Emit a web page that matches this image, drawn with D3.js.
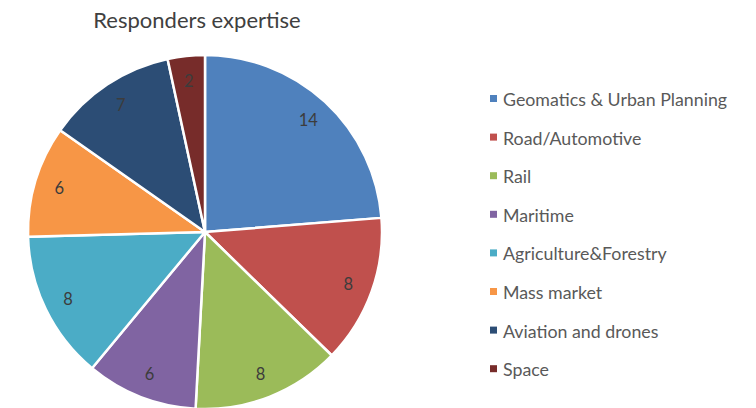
<!DOCTYPE html>
<html>
<head>
<meta charset="utf-8">
<script src="https://cdn.jsdelivr.net/npm/d3@7"></script>
<style>
  html, body { margin: 0; padding: 0; background: #fff; }
  svg { display: block; font-family: Lato, "Open Sans", "Liberation Sans", sans-serif; }
</style>
</head>
<body>
<svg id="chart" width="756" height="408"></svg>
<script>
// Responders by field of expertise
const categories = [
  "Geomatics & Urban Planning",
  "Road/Automotive",
  "Rail",
  "Maritime",
  "Agriculture&Forestry",
  "Mass market",
  "Aviation and drones",
  "Space"
];
const counts = [14, 8, 8, 6, 8, 6, 7, 2];
const colors = ["#4F81BD", "#C0504D", "#9BBB59", "#8064A2", "#4BACC6", "#F79646", "#2C4D75", "#772C2A"];

const data = categories.map((name, i) => ({ name, value: counts[i], color: colors[i] }));

const svg = d3.select("#chart");
const cx = 205, cy = 232, radius = 177;

// Title
svg.append("text")
  .attr("x", 197)
  .attr("y", 28)
  .attr("text-anchor", "middle")
  .attr("font-size", 22)
  .attr("fill", "#404040")
  .text("Responders expertise");

const pie = d3.pie().value(d => d.value).sort(null);
const arc = d3.arc().innerRadius(0).outerRadius(radius);
const labelArc = d3.arc().innerRadius(radius * 0.86).outerRadius(radius * 0.86);

const g = svg.append("g").attr("transform", `translate(${cx},${cy})`);
const arcs = pie(data);

g.selectAll("path.slice")
  .data(arcs)
  .join("path")
  .attr("class", "slice")
  .attr("d", arc)
  .attr("fill", d => d.data.color)
  .attr("stroke", "#fff")
  .attr("stroke-width", 2.5)
  .attr("stroke-linejoin", "round");

g.selectAll("text.value")
  .data(arcs)
  .join("text")
  .attr("class", "value")
  .attr("transform", d => `translate(${labelArc.centroid(d)})`)
  .attr("text-anchor", "middle")
  .attr("dominant-baseline", "central")
  .attr("font-size", 16.5)
  .attr("fill", "#3c3c3c")
  .text(d => d.data.value);

// Legend
const legend = svg.append("g").attr("transform", "translate(490,99)");
const rowStep = 38.6;
const rows = legend.selectAll("g.row")
  .data(data)
  .join("g")
  .attr("class", "row")
  .attr("transform", (d, i) => `translate(0,${i * rowStep})`);

rows.append("rect")
  .attr("x", 0)
  .attr("y", -4)
  .attr("width", 7)
  .attr("height", 7)
  .attr("fill", d => d.color);

rows.append("text")
  .attr("x", 13)
  .attr("y", 0)
  .attr("dominant-baseline", "central")
  .attr("font-size", 17.8)
  .attr("fill", "#595959")
  .text(d => d.name);
</script>
</body>
</html>
